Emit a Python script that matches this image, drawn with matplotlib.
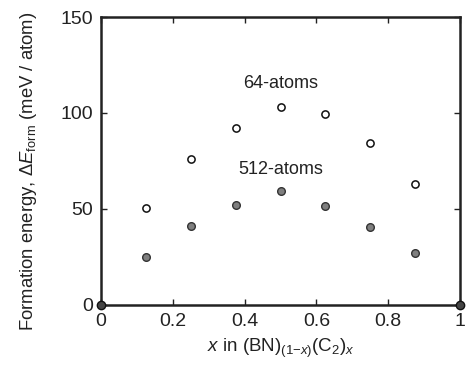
import matplotlib
matplotlib.use("Agg")
import matplotlib.pyplot as plt

plt.rcParams['font.family'] = ['Liberation Sans', 'DejaVu Sans']
plt.rcParams['mathtext.fontset'] = 'custom'
plt.rcParams['mathtext.rm'] = 'Liberation Sans'
plt.rcParams['mathtext.it'] = 'Liberation Sans:italic'

# composition x and formation energies (meV / atom)
x_vals = [0.125, 0.25, 0.375, 0.5, 0.625, 0.75, 0.875]
e_64 = [50.3, 75.8, 92.3, 103.1, 99.3, 84.3, 63.2]
e_512 = [25.1, 40.9, 51.9, 59.4, 51.6, 40.8, 27.0]
x_end = [0.0, 1.0]
e_end = [0.0, 0.0]

xticks = [0, 0.2, 0.4, 0.6, 0.8, 1]
xtick_labels = ['0', '0.2', '0.4', '0.6', '0.8', '1']
yticks = [0, 50, 100, 150]

fig = plt.figure(figsize=(4.66, 3.7), dpi=100)
ax = fig.add_axes([0.217, 0.176, 0.770, 0.778])

ax.plot(x_vals, e_64, 'o', ms=5.2, mfc='white', mec='#111111', mew=1.1)
ax.plot(x_vals, e_512, 'o', ms=5.5, mfc='#7f7f7f', mec='#333333', mew=1.0)
ax.plot(x_end, e_end, 'o', ms=6, mfc='#444444', mec='#111111', mew=1.0,
        clip_on=False, zorder=5)

ax.text(0.5, 115.3, '64-atoms', ha='center', va='center', fontsize=13, color='#222222')
ax.text(0.5, 70.4, '512-atoms', ha='center', va='center', fontsize=13, color='#222222')

ax.set_xlim(0, 1)
ax.set_ylim(0, 150)
ax.set_xticks(xticks)
ax.set_xticklabels(xtick_labels)
ax.set_yticks(yticks)

ax.tick_params(direction='in', top=True, right=True, length=4, width=1,
               labelsize=14, colors='#222222', pad=6)
for s in ax.spines.values():
    s.set_linewidth(1.8)
    s.set_color('#222222')

ax.set_xlabel(r'$\it{x}$ in (BN)$_{(1\mathrm{-}\it{x})}$(C$_2$)$_{\it{x}}$', fontsize=13.5,
              color='#222222', labelpad=5)
ax.set_ylabel(r'Formation energy, $\Delta\it{E}_{\mathrm{form}}$ (meV / atom)', fontsize=13.3,
              color='#222222')
ax.yaxis.set_label_coords(-0.172, 0.465)

fig.savefig('out.png', dpi=100)
